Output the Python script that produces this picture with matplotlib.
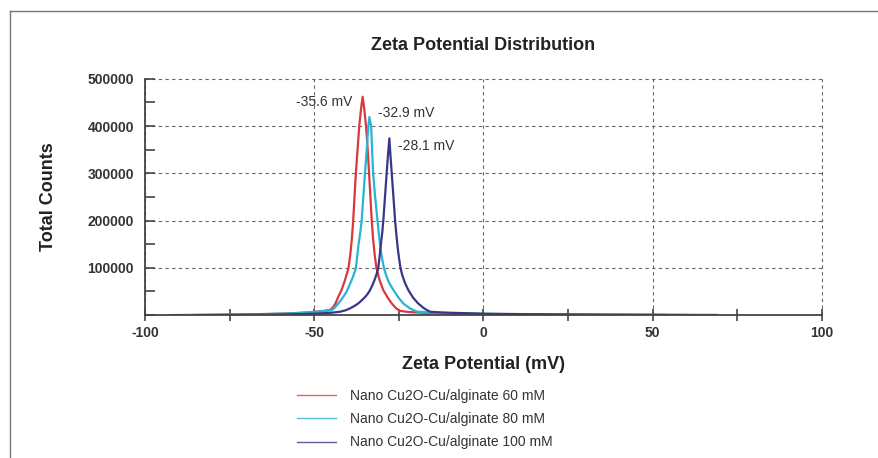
import matplotlib.pyplot as plt
from matplotlib.lines import Line2D
from matplotlib.ticker import MultipleLocator, FixedLocator

plt.rcParams['font.family'] = ['Liberation Sans', 'DejaVu Sans']
plt.rcParams['axes.unicode_minus'] = False

# zeta potential (mV) vs total counts
red_mv = [-92.5, -80, -70, -60, -52, -49, -47, -45.3, -44.5, -43.7, -42.9, -42.0, -41.0,
          -39.9, -39.4, -38.9, -38.5, -38.1, -37.7, -37.2, -36.7, -36.2, -35.7,
          -35.2, -34.7, -34.2, -33.8, -33.4, -33.0, -32.6, -32.1, -31.6, -30.6, -29.6,
          -28.3, -27.1, -25.9, -24.7, -22, -15, -5, 10, 30, 54]
red_counts = [0, 600, 1500, 3000, 5500, 7500, 9000, 11000, 16000, 25000, 38800, 52000, 72000,
              99000, 125000, 160000, 199000, 250000, 300000, 350000, 400000, 435000, 462000,
              435000, 400000, 350000, 300000, 250000, 199000, 160000, 125000, 99000, 72000, 53000,
              37000, 24700, 15000, 9000, 6500, 4000, 2500, 1500, 800, 300]

cyan_mv = [-90, -78, -65, -55, -48, -44.8, -43.9, -43.2, -42.3, -41.4, -40.4, -39.5, -38.6,
           -37.7, -37.3, -36.9, -36.4, -36.0, -35.5, -35.0, -34.5, -34.0, -33.7,
           -33.2, -32.9, -32.6, -32.0, -31.3, -30.8, -30.4, -29.9, -29.4, -28.7, -28.0,
           -26.6, -25.1, -23.7, -21.7, -19.7, -16, -12, 0, 20, 40, 60]
cyan_counts = [0, 800, 2000, 4000, 8000, 10600, 16000, 22000, 30000, 38800, 50000, 65000, 80000,
               99000, 125000, 150000, 175000, 199000, 250000, 300000, 350000, 400000, 419000,
               400000, 350000, 300000, 250000, 199000, 165000, 140000, 118000, 99000, 83000, 70000,
               53000, 37000, 24700, 14000, 7500, 5500, 4500, 2500, 1200, 600, 300]

navy_mv = [-85, -70, -58, -50, -45, -42.4, -40.8, -39.5, -38.2, -37.0, -36.0, -35.0, -34.2,
           -33.5, -32.9, -32.3, -31.7, -31.1, -30.7, -30.3, -29.9, -29.6, -29.1, -28.6,
           -28.2, -27.8, -27.5, -27.1, -26.6, -26.1, -25.7, -25.3, -24.9, -24.5, -24.0,
           -23.4, -22.8, -22.2, -20.8, -19.3, -17.5, -15.8, -12, -10, 0, 15, 35, 55, 69]
navy_counts = [0, 500, 1500, 3000, 5000, 7100, 10000, 14000, 19000, 24700, 31000, 38000, 45000,
               53000, 62000, 72000, 84000, 99000, 123000, 150000, 175000, 199000, 250000, 300000,
               340000, 374000, 340000, 300000, 250000, 199000, 168000, 140000, 118000, 99000, 85000,
               72000, 62000, 53000, 37000, 24700, 14000, 7100, 5500, 5000, 3000, 1800, 900, 500, 300]

labels = ['Nano Cu2O-Cu/alginate 60 mM', 'Nano Cu2O-Cu/alginate 80 mM',
          'Nano Cu2O-Cu/alginate 100 mM']
peak_labels = ['-35.6 mV', '-32.9 mV', '-28.1 mV']

fig = plt.figure(figsize=(8.79, 4.58), dpi=100)
ax = fig.add_axes([0.165, 0.312, 0.770, 0.516])

ax.plot(red_mv, red_counts, color='#d8393f', lw=1.6, label=labels[0])
ax.plot(cyan_mv, cyan_counts, color='#27b4d6', lw=1.6, label=labels[1])
ax.plot(navy_mv, navy_counts, color='#373787', lw=1.6, label=labels[2])

ax.set_xlim(-100, 100)
ax.set_ylim(0, 500000)

ax.xaxis.set_major_locator(FixedLocator([-100, -50, 0, 50, 100]))
ax.xaxis.set_minor_locator(FixedLocator([-75, -25, 25, 75]))
ax.yaxis.set_major_locator(FixedLocator([100000, 200000, 300000, 400000, 500000]))
ax.yaxis.set_minor_locator(MultipleLocator(50000))

ax.tick_params(axis='x', which='both', direction='inout', length=9, color='#444444', width=1.2)
ax.tick_params(axis='y', which='both', direction='in', length=7, color='#444444', width=1.2)
ax.tick_params(axis='x', which='major', labelsize=10, pad=3)
ax.tick_params(axis='y', which='major', labelsize=10, pad=8)
for t in ax.get_xticklabels() + ax.get_yticklabels():
    t.set_fontweight('bold')
    t.set_color('#333333')

for s in ['top', 'right']:
    ax.spines[s].set_visible(False)
for s in ['left', 'bottom']:
    ax.spines[s].set_color('#444444')
    ax.spines[s].set_linewidth(1.3)

ax.grid(True, which='major', linestyle=(0, (3, 3)), color='#666666', lw=0.8)
ax.set_axisbelow(True)
for gl in ax.get_xgridlines() + ax.get_ygridlines():
    gl.set_clip_on(False)

ax.set_title('Zeta Potential Distribution', fontsize=13, fontweight='bold', color='#222222', pad=21)
ax.set_xlabel('Zeta Potential (mV)', fontsize=13, fontweight='bold', color='#222222', labelpad=12)
ax.set_ylabel('Total Counts', fontsize=13, fontweight='bold', color='#222222', labelpad=22)

ax.text(-38.6, 451000, peak_labels[0], ha='right', va='center', fontsize=10, color='#333333')
ax.text(-31.2, 428000, peak_labels[1], ha='left', va='center', fontsize=10, color='#333333')
ax.text(-25.3, 358000, peak_labels[2], ha='left', va='center', fontsize=10, color='#333333')

leg = ax.legend(loc='upper left', bbox_to_anchor=(0.325, 0.176), bbox_transform=fig.transFigure,
                frameon=False, fontsize=10, handlelength=2.8, handletextpad=1.0,
                labelspacing=0.68, borderpad=0.3)
for line in leg.get_lines():
    line.set_linewidth(1.0)
    line.set_alpha(0.8)
for t in leg.get_texts():
    t.set_color('#333333')

# outer frame of the picture (left and top edges only visible)
fig.add_artist(Line2D([10 / 879, 10 / 879], [0, 1 - 11 / 458], color='#777777', lw=1.0))
fig.add_artist(Line2D([10 / 879, 1], [1 - 11 / 458, 1 - 11 / 458], color='#777777', lw=1.0))

plt.savefig('out.png', dpi=100)
